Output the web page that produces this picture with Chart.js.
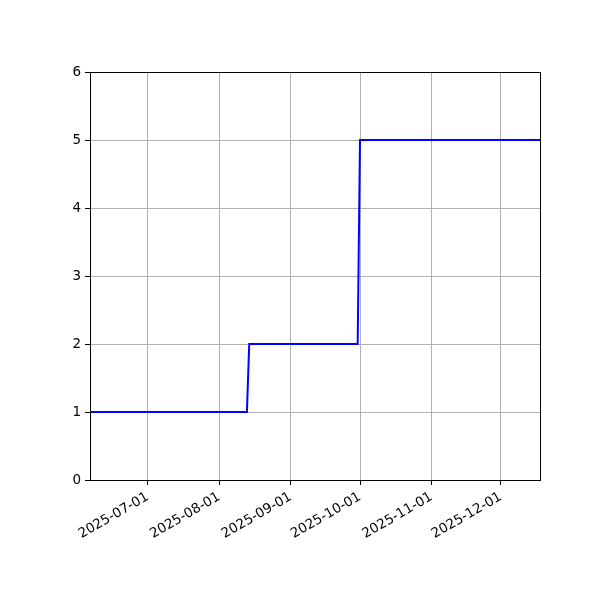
<!DOCTYPE html>
<html>
<head>
<meta charset="utf-8">
<script src="https://cdn.jsdelivr.net/npm/chart.js@4/dist/chart.umd.min.js"></script>
<style>
  html, body { margin: 0; padding: 0; background: #ffffff; }
  #wrap { width: 600px; height: 600px; }
</style>
</head>
<body>
<div id="wrap"><canvas id="c" width="600" height="600"></canvas></div>
<script>
// Data
const dates = ['2025-06-06', '2025-08-13', '2025-08-14', '2025-09-30', '2025-10-01', '2025-12-18'];
const values = [1, 1, 2, 2, 5, 5];
const xTickLabels = ['2025-07-01', '2025-08-01', '2025-09-01', '2025-10-01', '2025-11-01', '2025-12-01'];
const yTicks = [0, 1, 2, 3, 4, 5, 6];

const toMs = s => Date.parse(s + 'T00:00:00Z');
const points = dates.map((d, i) => ({ x: toMs(d), y: values[i] }));
const fmt = ms => new Date(ms).toISOString().slice(0, 10);

const frame = {
  id: 'frame',
  afterDatasetsDraw(chart) {
    const a = chart.chartArea, ctx = chart.ctx;
    ctx.save();
    ctx.strokeStyle = '#000000';
    ctx.lineWidth = 1;
    ctx.strokeRect(Math.round(a.left) + 0.5, Math.round(a.top) + 0.5,
                   Math.round(a.right - a.left), Math.round(a.bottom - a.top));
    ctx.restore();
  }
};

const font = { family: 'DejaVu Sans', size: 13.5 };

new Chart(document.getElementById('c'), {
  type: 'line',
  data: {
    datasets: [{
      data: points,
      borderColor: '#0000ff',
      borderWidth: 2,
      pointRadius: 0,
      tension: 0,
      fill: false
    }]
  },
  options: {
    responsive: false,
    animation: false,
    events: [],
    layout: { padding: { top: 72, right: 60, left: 0, bottom: 0 } },
    plugins: { legend: { display: false }, tooltip: { enabled: false } },
    scales: {
      x: {
        type: 'linear',
        min: toMs(dates[0]),
        max: toMs(dates[dates.length - 1]),
        afterBuildTicks(scale) {
          scale.ticks = xTickLabels.map(s => ({ value: toMs(s) }));
        },
        afterFit(scale) { scale.height = 120; },
        ticks: {
          callback: v => fmt(v),
          color: '#000000',
          font: font,
          maxRotation: 30,
          minRotation: 30,
          padding: 4,
          autoSkip: false
        },
        grid: { color: '#b0b0b0', lineWidth: 1, tickColor: '#000000', tickLength: 5, drawTicks: true },
        border: { display: true, color: '#000000', width: 1 }
      },
      y: {
        type: 'linear',
        min: yTicks[0],
        max: yTicks[yTicks.length - 1],
        afterBuildTicks(scale) {
          scale.ticks = yTicks.map(v => ({ value: v }));
        },
        afterFit(scale) { scale.width = 90; },
        ticks: { color: '#000000', font: font, padding: 4 },
        grid: { color: '#b0b0b0', lineWidth: 1, tickColor: '#000000', tickLength: 5 },
        border: { display: true, color: '#000000', width: 1 }
      }
    }
  },
  plugins: [frame]
});
</script>
</body>
</html>
